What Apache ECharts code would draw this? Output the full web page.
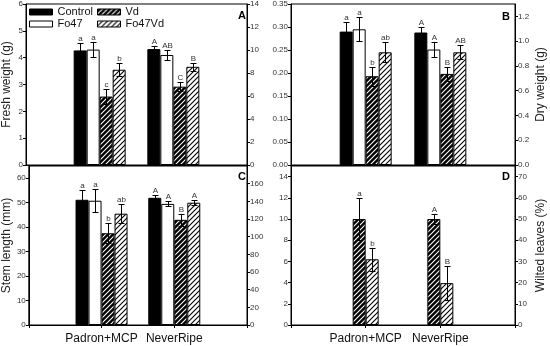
<!DOCTYPE html>
<html><head><meta charset="utf-8">
<script src="https://cdn.jsdelivr.net/npm/echarts@6/dist/echarts.min.js"></script>
<style>html,body{margin:0;padding:0;background:#fff}#c{width:550px;height:346px}</style>
</head><body><div id="c"></div>
<script>
// ---- data ----
const categories = ['', 'Padron+MCP', 'NeverRipe', ''];
const treatments = ['Control', 'Fo47', 'Vd', 'Fo47Vd'];
const wiltTreatments = ['Vd', 'Fo47Vd'];
// rows: Padron+MCP, NeverRipe ; columns: treatments
const freshMean = [[4.27, 4.30, 2.55, 3.55], [4.32, 4.10, 2.92, 3.66]];
const freshErr = [[0.27, 0.28, 0.28, 0.25], [0.13, 0.17, 0.17, 0.14]];
const freshLetters = [['a', 'a', 'c', 'b'], ['A', 'AB', 'C', 'B']];
const dryMean = [[0.290, 0.295, 0.193, 0.245], [0.288, 0.251, 0.198, 0.245]];
const dryErr = [[0.020, 0.026, 0.021, 0.022], [0.013, 0.016, 0.016, 0.015]];
const dryLetters = [['a', 'a', 'b', 'ab'], ['A', 'A', 'B', 'AB']];
const stemMean = [[51.2, 50.8, 37.5, 45.5], [52.0, 49.5, 43.0, 50.0]];
const stemErr = [[3.8, 4.8, 4.0, 3.8], [1.0, 1.0, 2.5, 1.0]];
const stemLetters = [['a', 'a', 'b', 'ab'], ['A', 'A', 'B', 'A']];
const wiltMean = [[10.0, 6.2], [10.0, 3.95]];
const wiltErr = [[2.0, 1.1], [0.5, 1.6]];
const wiltLetters = [['a', 'b'], ['A', 'B']];

// ---- styles ----
const FONT = 'Liberation Sans, Arial, sans-serif';
const BW = 13;
function hatch(bg, fg) {
  const s = 5, c = document.createElement('canvas');
  c.width = s; c.height = s;
  const g = c.getContext('2d');
  g.fillStyle = bg; g.fillRect(0, 0, s, s);
  g.strokeStyle = fg; g.lineWidth = 1.1;
  g.beginPath();
  g.moveTo(0, s); g.lineTo(s, 0);
  g.moveTo(-1, 1); g.lineTo(1, -1);
  g.moveTo(s - 1, s + 1); g.lineTo(s + 1, s - 1);
  g.stroke();
  return c;
}
const fills = {
  Control: '#000',
  Fo47: '#fff',
  Vd: { image: hatch('#000', '#fff'), repeat: 'repeat' },
  Fo47Vd: { image: hatch('#fff', '#000'), repeat: 'repeat' }
};

const panels = [
  { names: treatments, mean: freshMean, err: freshErr, letters: freshLetters },
  { names: treatments, mean: dryMean, err: dryErr, letters: dryLetters },
  { names: treatments, mean: stemMean, err: stemErr, letters: stemLetters },
  { names: wiltTreatments, mean: wiltMean, err: wiltErr, letters: wiltLetters }
];

const grids = [
  { left: 25, top: 4, width: 222, height: 161 },
  { left: 291, top: 4, width: 224, height: 161 },
  { left: 25, top: 166, width: 222, height: 159 },
  { left: 291, top: 166, width: 224, height: 159 }
].map(g => Object.assign(g, { show: true, borderColor: '#000', borderWidth: 1, containLabel: false }));

const axisLine = { show: true, lineStyle: { color: '#000', width: 1 } };
const tickLabel = { fontSize: 8, color: '#333', fontFamily: FONT, margin: 3 };
function yAx(grid, pos, min, max, interval, digits, name, hideMax) {
  return {
    type: 'value', gridIndex: grid, position: pos, min, max, interval,
    axisLine, splitLine: { show: false },
    axisTick: { show: true, length: 3, lineStyle: { color: '#000' } },
    axisLabel: Object.assign({}, tickLabel, {
      showMaxLabel: !hideMax,
      formatter: v => v.toFixed(digits)
    }),
    name: name || '', nameLocation: 'middle', nameRotate: 90,
    nameGap: pos === 'left' ? 13 : 20,
    nameTextStyle: { fontSize: 12, color: '#222', fontFamily: FONT }
  };
}
const yAxes = [
  yAx(0, 'left', 0, 6, 1, 0, 'Fresh weight (g)', false),
  yAx(0, 'right', 0, 14, 2, 0, '', false),
  yAx(1, 'left', 0, 0.35, 0.05, 2, '', false),
  yAx(1, 'right', 0, 1.3, 0.2, 1, 'Dry weight (g)', true),
  yAx(2, 'left', 0, 65, 10, 0, 'Stem length (mm)', true),
  yAx(2, 'right', 0, 180, 20, 0, '', true),
  yAx(3, 'left', 0, 15, 2, 0, '', true),
  yAx(3, 'right', 0, 75, 10, 0, 'Wilted leaves (%)', true)
];
const xAxes = [0, 1, 2, 3].map(i => ({
  type: 'category', gridIndex: i, data: categories, boundaryGap: false,
  axisLine,
  axisTick: { show: i >= 2, length: 3, lineStyle: { color: '#000' }, interval: 0 },
  axisLabel: { show: i >= 2, interval: 0, fontSize: 12, color: '#111', fontFamily: FONT, margin: 8 }
}));

const series = [];
panels.forEach((p, pi) => {
  const n = p.names.length;
  p.names.forEach((name, j) => {
    series.push({
      type: 'bar', name, xAxisIndex: pi, yAxisIndex: pi * 2,
      data: categories.map((c, k) => (k === 1 || k === 2) ? p.mean[k - 1][j] : '-'),
      barWidth: BW, barGap: '0%',
      itemStyle: { color: fills[name], borderColor: '#000', borderWidth: 1 },
      emphasis: { disabled: true }
    });
    series.push({
      type: 'custom', name: 'err' + pi + '_' + j, xAxisIndex: pi, yAxisIndex: pi * 2, z: 5,
      data: [[1, p.mean[0][j], p.err[0][j]], [2, p.mean[1][j], p.err[1][j]]],
      encode: { x: 0, y: 1 },
      renderItem: (params, api) => {
        const x = api.value(0), v = api.value(1), e = api.value(2);
        const off = (j - (n - 1) / 2) * BW;
        const cx = Math.round(api.coord([x, v])[0] + off) + 0.5;
        const yt = Math.round(api.coord([x, v + e])[1]) + 0.5;
        const yb = Math.round(api.coord([x, v - e])[1]) + 0.5;
        const cap = 3;
        const st = { stroke: '#000', lineWidth: 1 };
        return {
          type: 'group', children: [
            { type: 'line', shape: { x1: cx, y1: yt, x2: cx, y2: yb }, style: st },
            { type: 'line', shape: { x1: cx - cap, y1: yt, x2: cx + cap, y2: yt }, style: st },
            { type: 'line', shape: { x1: cx - cap, y1: yb, x2: cx + cap, y2: yb }, style: st },
            { type: 'text', x: cx, y: yt - 1, style: {
                text: p.letters[params.dataIndex][j], textAlign: 'center', textVerticalAlign: 'bottom',
                font: '8px ' + FONT, fill: '#333' } }
          ]
        };
      }
    });
  });
});

const legendCommon = {
  orient: 'vertical', icon: 'rect', itemWidth: 23, itemHeight: 6, itemGap: 0,
  selectedMode: false, padding: 0,
  textStyle: { fontSize: 11, color: '#111', fontFamily: FONT, lineHeight: 12, padding: [0, 0, 0, 0] }
};
const legendItem = name => ({ name, itemStyle: { borderColor: '#000', borderWidth: 1 } });

const option = {
  animation: false,
  backgroundColor: '#fff',
  grid: grids,
  xAxis: xAxes,
  yAxis: yAxes,
  legend: [
    Object.assign({}, legendCommon, { left: 29, top: 6, data: ['Control', 'Fo47'].map(legendItem) }),
    Object.assign({}, legendCommon, { left: 97, top: 6, data: ['Vd', 'Fo47Vd'].map(legendItem) })
  ],
  graphic: [
    { type: 'text', left: 238, top: 10, style: { text: 'A', font: 'bold 11px ' + FONT, fill: '#000' } },
    { type: 'text', left: 502, top: 11, style: { text: 'B', font: 'bold 11px ' + FONT, fill: '#000' } },
    { type: 'text', left: 238, top: 171, style: { text: 'C', font: 'bold 11px ' + FONT, fill: '#000' } },
    { type: 'text', left: 502, top: 171, style: { text: 'D', font: 'bold 11px ' + FONT, fill: '#000' } }
  ],
  series
};
const chart = echarts.init(document.getElementById('c'), null, { renderer: 'canvas' });
chart.setOption(option);
</script></body></html>
